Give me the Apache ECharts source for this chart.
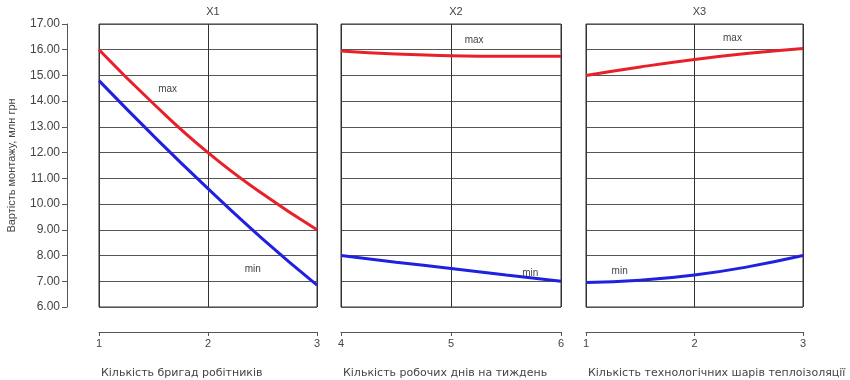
<!DOCTYPE html>
<html>
<head>
<meta charset="utf-8">
<script src="https://cdn.jsdelivr.net/npm/echarts@6/dist/echarts.min.js"></script>
<style>
  html, body { margin: 0; padding: 0; background: #fff; }
  #chart { width: 850px; height: 380px; }
</style>
</head>
<body>
<div id="chart"></div>
<script>
// values (x at half steps)
const x1 = [1, 1.5, 2, 2.5, 3]
const x1Max = [16.0, 13.9, 12.0, 10.4, 9.0]
const x1Min = [14.8, 12.65, 10.6, 8.65, 6.85]

const x2 = [4, 4.5, 5, 5.5, 6]
const x2Max = [15.95, 15.83, 15.77, 15.75, 15.75]
const x2Min = [8.0, 7.74, 7.5, 7.24, 7.0]

const x3 = [1, 1.5, 2, 2.5, 3]
const x3Max = [15.0, 15.33, 15.62, 15.86, 16.05]
const x3Min = [6.95, 7.04, 7.24, 7.57, 8.0]

const panelTitles = ['X1', 'X2', 'X3']
const axisTitles = [
  'Кількість бригад робітників',
  'Кількість робочих днів на тиждень',
  'Кількість технологічних шарів теплоізоляції',
]
const yTitle = 'Вартість монтажу, млн грн'

// label anchors [x, y] in data units: max, min
const maxLabelAt = [[1.63, 14.45], [5.21, 16.38], [2.35, 16.45]]
const minLabelAt = [[2.41, 7.45], [5.72, 7.3], [1.31, 7.4]]

const xs = [x1, x2, x3]
const maxes = [x1Max, x2Max, x3Max]
const mins = [x1Min, x2Min, x3Min]
const xRanges = [[1, 3], [4, 6], [1, 3]]

const font = 'Liberation Sans, Arial, sans-serif'
const wideFont = 'DejaVu Sans, Verdana, sans-serif'
const textColor = '#444'
const gridPos = [
  { left: 99, width: 218 },
  { left: 341, width: 220 },
  { left: 586, width: 217 },
]

const chart = echarts.init(document.getElementById('chart'), null, { renderer: 'canvas' })

const pair = (xv, yv) => xv.map((x, i) => [x, yv[i]])

const labelPoint = (coord, text) => ({
  coord,
  symbol: 'circle',
  symbolSize: 0,
  label: { show: true, position: 'inside', formatter: text, color: textColor, fontSize: 10, fontFamily: font },
})

const option = {
  animation: false,
  backgroundColor: '#fff',
  title: [
    ...panelTitles.map((t, i) => ({
      text: t,
      left: gridPos[i].left + gridPos[i].width / 2,
      textAlign: 'center',
      top: 1,
      textStyle: { fontSize: 11, fontWeight: 'normal', color: textColor, fontFamily: font },
    })),
    ...axisTitles.map((t, i) => ({
      text: t,
      left: gridPos[i].left - 3,
      top: 363,
      textStyle: { fontSize: 11, fontWeight: 'normal', color: textColor, fontFamily: wideFont },
    })),
  ],
  grid: gridPos.map(g => ({
    left: g.left, width: g.width, top: 24, height: 283,
    show: true, borderColor: '#333', borderWidth: 1, backgroundColor: 'transparent',
  })),
  xAxis: xRanges.map((r, i) => ({
    type: 'value', gridIndex: i, min: r[0], max: r[1], interval: 1,
    position: 'bottom', offset: 25,
    axisLine: { show: true, onZero: false, lineStyle: { color: '#555', width: 1 } },
    axisTick: { show: true, length: 4, lineStyle: { color: '#555' } },
    axisLabel: { color: textColor, fontSize: 11, fontFamily: font, margin: 6 },
    splitLine: { show: true, lineStyle: { color: '#333', width: 1 } },
  })),
  yAxis: [0, 1, 2].map(i => ({
    type: 'value', gridIndex: i, min: 6, max: 17, interval: 1,
    position: 'left', offset: i === 0 ? 32 : 0,
    name: i === 0 ? yTitle : '',
    nameLocation: 'middle', nameRotate: 90, nameGap: 50,
    nameTextStyle: { color: textColor, fontSize: 11, fontFamily: font },
    axisLine: { show: i === 0, lineStyle: { color: '#555', width: 1 } },
    axisTick: { show: i === 0, length: 5, lineStyle: { color: '#555' } },
    axisLabel: {
      show: i === 0, color: textColor, fontSize: 12, fontFamily: font, margin: 7,
      formatter: v => v.toFixed(2),
    },
    splitLine: { show: true, lineStyle: { color: '#555', width: 1 } },
  })),
  series: [0, 1, 2].flatMap(i => [
    {
      name: 'max' + (i + 1), type: 'line', xAxisIndex: i, yAxisIndex: i,
      data: pair(xs[i], maxes[i]), smooth: true, symbol: 'none',
      lineStyle: { color: '#e8202a', width: 3 },
      markPoint: { data: [labelPoint(maxLabelAt[i], 'max')] },
    },
    {
      name: 'min' + (i + 1), type: 'line', xAxisIndex: i, yAxisIndex: i,
      data: pair(xs[i], mins[i]), smooth: true, symbol: 'none',
      lineStyle: { color: '#2020e0', width: 3 },
      markPoint: { data: [labelPoint(minLabelAt[i], 'min')] },
    },
  ]),
}

chart.setOption(option)
</script>
</body>
</html>
